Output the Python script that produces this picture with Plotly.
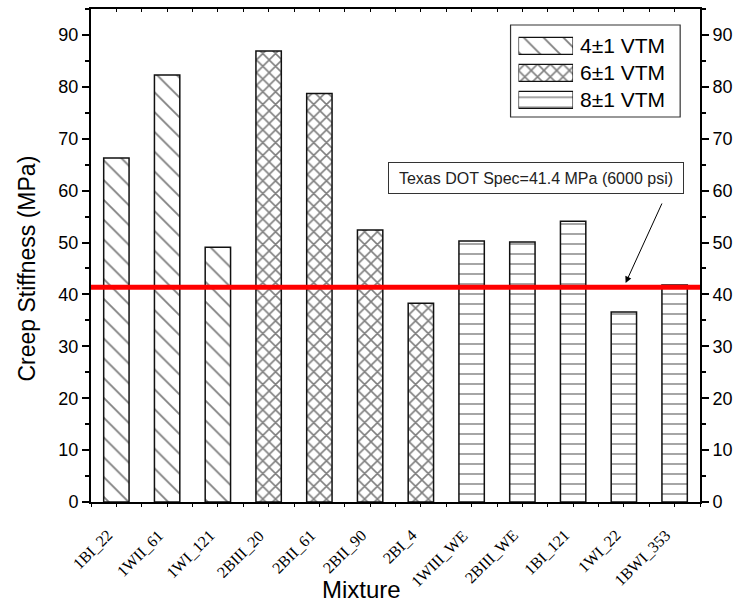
import plotly.graph_objects as go

# Creep stiffness per mixture, grouped by voids-in-total-mix level
mixtures = ["1BI_22", "1WII_61", "1WI_121", "2BIII_20", "2BII_61", "2BII_90",
            "2BI_4", "1WIII_WE", "2BIII_WE", "1BI_121", "1WI_22", "1BWI_353"]
stiffness = [66.3, 82.3, 49.1, 86.9, 78.7, 52.4, 38.3, 50.3, 50.1, 54.1, 36.6, 41.8]
vtm_group = ["4±1 VTM"] * 3 + ["6±1 VTM"] * 4 + ["8±1 VTM"] * 5
group_names = ["4±1 VTM", "6±1 VTM", "8±1 VTM"]
spec_mpa = 41.4
spec_psi = 6000
y_ticks = list(range(0, 100, 10))

SANS = "Liberation Sans, Arial, sans-serif"
SERIF = "Liberation Serif, Times New Roman, serif"

patterns = {
    "4±1 VTM": dict(shape="\\", size=14, solidity=0.13),
    "6±1 VTM": dict(shape="x", size=9, solidity=0.32),
    "8±1 VTM": dict(shape="-", size=10, solidity=0.14),
}

# figure geometry (pixels) used to place the decorations
W, H = 742, 603
ML, MR, MT, MB = 91, 37, 9, 101
PW, PH = W - ML - MR, H - MT - MB


def px_x(p):
    return (p - ML) / PW


def px_y(p):
    return (H - MB - p) / PH


fig = go.Figure()

idx = list(range(len(mixtures)))
for g in group_names:
    xs = [i for i in idx if vtm_group[i] == g]
    fig.add_trace(go.Bar(
        x=xs, y=[stiffness[i] for i in xs], width=0.5, name=g,
        marker=dict(color="white",
                    line=dict(color="#111", width=1.5),
                    pattern=dict(fgcolor="black", bgcolor="white", **patterns[g])),
        showlegend=False,
    ))

# legend swatches drawn as a small inset bar chart
fig.add_trace(go.Bar(
    x=[1, 1, 1], y=[2, 1, 0], orientation="h", width=0.63,
    xaxis="x3", yaxis="y3", showlegend=False, hoverinfo="skip",
    marker=dict(color="white", line=dict(color="#111", width=1.2),
                pattern=dict(
                    shape=[patterns[g]["shape"] for g in group_names],
                    size=[patterns[g]["size"] for g in group_names],
                    solidity=[patterns[g]["solidity"] for g in group_names],
                    fgcolor="black", bgcolor="white")),
))

# invisible trace so the mirrored top/right axes are drawn
fig.add_trace(go.Scatter(x=[0], y=[0], xaxis="x2", yaxis="y2", mode="markers",
                         marker=dict(opacity=0), showlegend=False, hoverinfo="skip"))

tick_font = dict(family=SANS, size=18, color="black")
yaxis_common = dict(
    range=[0, 95], tickvals=y_ticks, ticks="outside", ticklen=7, tickwidth=1.5,
    tickcolor="black", showline=True, linecolor="black", linewidth=2,
    showgrid=False, zeroline=False, tickfont=tick_font,
    minor=dict(dtick=5, ticks="outside", ticklen=4, tickwidth=1.5, tickcolor="black"),
)
xaxis_common = dict(
    range=[-0.5, len(mixtures) - 0.5], tickvals=idx, ticklen=3, tickwidth=1,
    tickcolor="black", showticklabels=False,
    showline=True, linecolor="black", linewidth=2,
    showgrid=False, zeroline=False,
)

fig.update_layout(
    width=W, height=H,
    margin=dict(l=ML, r=MR, t=MT, b=MB),
    paper_bgcolor="white", plot_bgcolor="white",
    xaxis=dict(**xaxis_common, ticks="outside",
               minor=dict(dtick=0.5, tick0=-0.5, ticks="outside", ticklen=3,
                          tickcolor="black")),
    xaxis2=dict(**xaxis_common, ticks="inside", overlaying="x", side="top", anchor="y",
                minor=dict(dtick=0.5, tick0=-0.5, ticks="inside", ticklen=3,
                           tickcolor="black")),
    yaxis=dict(**yaxis_common),
    yaxis2=dict(**yaxis_common, overlaying="y", side="right", anchor="x"),
    xaxis3=dict(domain=[px_x(522), px_x(577)], range=[0, 1], anchor="y3",
                visible=False, fixedrange=True),
    yaxis3=dict(domain=[px_y(113.3), px_y(32.3)], range=[-0.5, 2.5], anchor="x3",
                visible=False, fixedrange=True),
    showlegend=False,
)

shapes = [
    # specification line
    dict(type="line", xref="paper", yref="y", x0=0, x1=1, y0=spec_mpa, y1=spec_mpa,
         line=dict(color="#ff0000", width=5), layer="above"),
    # legend frame
    dict(type="rect", xref="paper", yref="paper",
         x0=px_x(514), x1=px_x(685), y0=px_y(117), y1=px_y(25),
         line=dict(color="#333", width=1.2), fillcolor="rgba(0,0,0,0)", layer="below"),
]
fig.update_layout(shapes=shapes)

annotations = [
    dict(text="Creep Stiffness (MPa)", xref="paper", yref="paper",
         x=px_x(26), y=px_y(269), textangle=-90, showarrow=False,
         xanchor="center", yanchor="middle", font=dict(family=SANS, size=23, color="black")),
    dict(text="Mixture", xref="paper", yref="paper",
         x=px_x(364), y=px_y(589), showarrow=False,
         xanchor="center", yanchor="middle", font=dict(family=SANS, size=24, color="black")),
    dict(text=f"Texas DOT Spec={spec_mpa} MPa ({spec_psi} psi)", xref="paper", yref="paper",
         x=px_x(540), y=px_y(178), showarrow=False, width=292, height=28,
         xanchor="center", yanchor="middle", bordercolor="#333", borderwidth=1,
         bgcolor="white", font=dict(family=SANS, size=16, color="#222")),
    dict(text="", xref="paper", yref="paper", axref="pixel", ayref="pixel",
         x=px_x(630), y=px_y(283), ax=37, ay=-81, showarrow=True,
         arrowhead=2, arrowsize=1.3, arrowwidth=1, arrowcolor="black"),
]
# rotated category labels under each bar
for i, name in enumerate(mixtures):
    annotations.append(dict(text=name, xref="x", yref="paper", x=i + 0.04, y=px_y(524),
                            xanchor="right", yanchor="top", textangle=-45,
                            showarrow=False,
                            font=dict(family=SERIF, size=16, color="black")))
for k, g in enumerate(group_names):
    yc = 45.8 + 27 * k
    annotations.append(dict(text=g, xref="paper", yref="paper", x=px_x(582), y=px_y(yc),
                            xanchor="left", yanchor="middle", showarrow=False,
                            font=dict(family=SANS, size=21, color="black")))
fig.update_layout(annotations=annotations)

fig.write_html("out.html")
